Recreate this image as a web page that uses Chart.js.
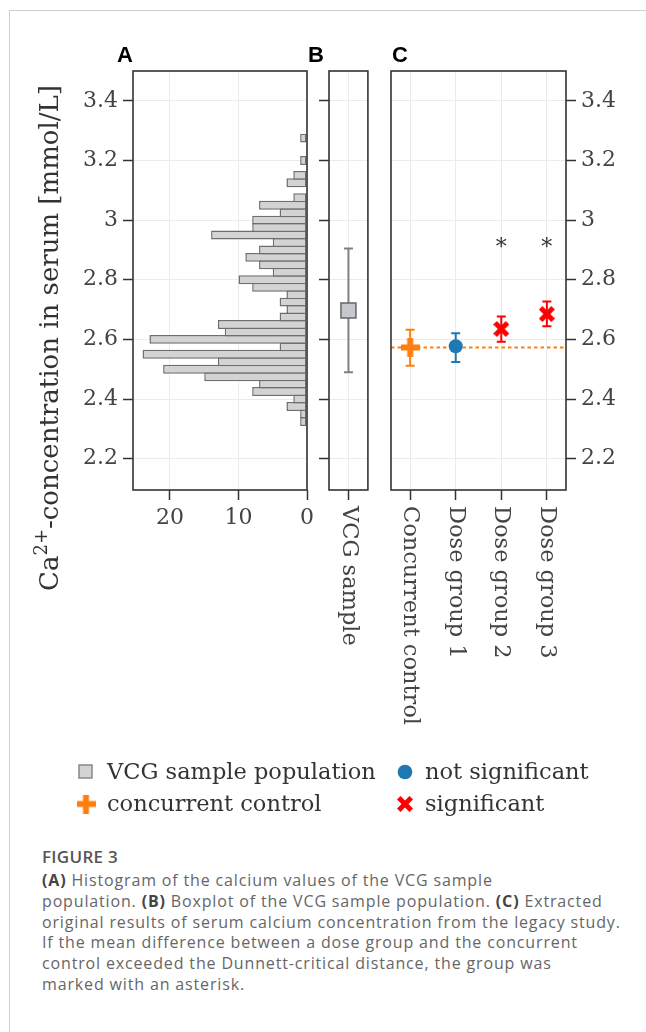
<!DOCTYPE html>
<html>
<head>
<meta charset="utf-8">
<script src="https://cdn.jsdelivr.net/npm/chart.js@4.4.1/dist/chart.umd.min.js"></script>
<style>
html, body { margin: 0; padding: 0; background: #fff; }
#page { position: relative; width: 646px; height: 1032px; overflow: hidden; background: #fff; }
#frame { position: absolute; left: 9px; top: 10px; width: 700px; height: 1100px;
         border-left: 1.5px solid #d0d0d0; border-top: 1.5px solid #d0d0d0; }
canvas { position: absolute; top: 0; }
.letter { position: absolute; top: 44px; font: bold 22px 'Liberation Sans', Arial, sans-serif;
          line-height: 22px; color: #000; }
.leg { position: absolute; font: 22.5px 'DejaVu Serif', serif; line-height: 22px; color: #333; white-space: nowrap; }
#figlabel { position: absolute; left: 42px; top: 848px; font: 600 17px 'Open Sans', sans-serif;
            line-height: 17px; color: #555; letter-spacing: 0.3px; }
#caption { position: absolute; left: 42px; top: 870px; font: 16px 'Open Sans', sans-serif;
           line-height: 20.8px; color: #666; white-space: nowrap; letter-spacing: 0.85px; }
#caption b { color: #444; }
</style>
</head>
<body>
<div id="page">
  <div id="frame"></div>
  <canvas id="histo" width="320" height="740" style="left:0"></canvas>
  <canvas id="vcg" width="80" height="740" style="left:300px"></canvas>
  <canvas id="groups" width="266" height="740" style="left:380px"></canvas>
  <canvas id="legendMarks" width="646" height="90" style="top:740px;left:0"></canvas>
  <div class="letter" style="left:117px">A</div>
  <div class="letter" style="left:308px">B</div>
  <div class="letter" style="left:392px">C</div>
  <div class="leg" style="left:107px;top:760px">VCG sample population</div>
  <div class="leg" style="left:107px;top:792px">concurrent control</div>
  <div class="leg" style="left:425px;top:760px">not significant</div>
  <div class="leg" style="left:425px;top:792px">significant</div>
  <div id="figlabel">FIGURE 3</div>
  <div id="caption"><b>(A)</b> Histogram of the calcium values of the VCG sample<br>population. <b>(B)</b> Boxplot of the VCG sample population. <b>(C)</b> Extracted<br>original results of serum calcium concentration from the legacy study.<br>If the mean difference between a dose group and the concurrent<br>control exceeded the Dunnett-critical distance, the group was<br>marked with an asterisk.</div>
</div>
<script>
// histogram of the VCG sample population (bin centres, counts)
const histBinCenters = [2.325, 2.35, 2.375, 2.4, 2.425, 2.45, 2.475, 2.5, 2.525, 2.55,
    2.575, 2.6, 2.625, 2.65, 2.675, 2.7, 2.725, 2.75, 2.775, 2.8,
    2.825, 2.85, 2.875, 2.9, 2.925, 2.95, 2.975, 3.0, 3.025, 3.05,
    3.075, 3.1, 3.125, 3.15, 3.175, 3.2, 3.225, 3.25, 3.275];
const histCounts = [1, 1, 3, 2, 8, 7, 15, 21, 13, 24,
    4, 23, 12, 13, 4, 3, 4, 3, 8, 10,
    5, 7, 9, 7, 5, 14, 8, 8, 4, 7,
    2, 0, 3, 2, 0, 1, 0, 0, 1];

// boxplot of the VCG sample
const vcgLabels = ['VCG sample'];
const vcgCenter = [2.697];
const vcgLow = [2.49];
const vcgHigh = [2.905];

// legacy study groups
const groupLabels = ['Concurrent control', 'Dose group 1', 'Dose group 2', 'Dose group 3'];
const groupMeans = [2.573, 2.577, 2.635, 2.685];
const groupLow = [2.512, 2.524, 2.592, 2.644];
const groupHigh = [2.632, 2.621, 2.677, 2.727];
const groupStatus = ['control', 'not significant', 'significant', 'significant'];
const asteriskLevel = 2.885;

const yTickValues = [2.2, 2.4, 2.6, 2.8, 3.0, 3.2, 3.4];
const countTickValues = [0, 10, 20];
const yMin = 2.095, yMax = 3.5;

const ORANGE = '#ff7f0e', BLUE = '#1f77b4', RED = '#ff0000';
const SERIF = "'DejaVu Serif', serif";
const AXIS_H = 250; // space below the plot area, labels included

Chart.defaults.font.family = SERIF;
Chart.defaults.font.size = 22;
Chart.defaults.color = '#444';

function plusMarker(size, arm, color) {
    const c = document.createElement('canvas');
    c.width = size; c.height = size;
    const g = c.getContext('2d');
    g.fillStyle = color;
    g.fillRect(0, (size - arm) / 2, size, arm);
    g.fillRect((size - arm) / 2, 0, arm, size);
    return c;
}

function crossMarker(size, arm, color) {
    const c = document.createElement('canvas');
    c.width = size; c.height = size;
    const g = c.getContext('2d');
    const len = size * Math.SQRT2 - arm;
    g.fillStyle = color;
    g.translate(size / 2, size / 2);
    g.rotate(Math.PI / 4);
    g.fillRect(-len / 2, -arm / 2, len, arm);
    g.rotate(Math.PI / 2);
    g.fillRect(-len / 2, -arm / 2, len, arm);
    return c;
}

const plusImg = plusMarker(19, 6, ORANGE);
const crossImg = crossMarker(16, 5, RED);

function gridOpts() {
    return { color: '#ebebeb', lineWidth: 1, offset: false, tickColor: '#333', tickWidth: 1.5,
             tickLength: 10, drawTicks: true };
}

function fmtTick(v) { return (Math.round(v * 10) / 10).toString(); }

function yScale(position, showLabels, width) {
    return {
        type: 'linear', position: position, min: yMin, max: yMax, offset: false,
        grid: gridOpts(), border: { display: false },
        afterBuildTicks: s => { s.ticks = yTickValues.map(v => ({ value: v })); },
        afterFit: s => { s.width = width; },
        ticks: { display: showLabels, padding: 5, callback: fmtTick }
    };
}

const boxPlugin = {
    id: 'box',
    afterDraw(chart) {
        const a = chart.chartArea, ctx = chart.ctx;
        ctx.save();
        ctx.strokeStyle = '#333';
        ctx.lineWidth = 1.6;
        ctx.strokeRect(a.left, a.top, a.right - a.left, a.bottom - a.top);
        ctx.restore();
    }
};

const errorBarPlugin = {
    id: 'errorBars',
    beforeDatasetsDraw(chart) {
        const ctx = chart.ctx, xs = chart.scales.x, ys = chart.scales.y;
        chart.data.datasets.forEach(ds => {
            if (!ds.errLow) return;
            ctx.save();
            ctx.strokeStyle = ds.errColor;
            ctx.lineWidth = 2;
            ds.data.forEach((p, i) => {
                const x = xs.getPixelForValue(p.x);
                const y1 = ys.getPixelForValue(ds.errLow[i]);
                const y2 = ys.getPixelForValue(ds.errHigh[i]);
                ctx.beginPath();
                ctx.moveTo(x, y1); ctx.lineTo(x, y2);
                ctx.moveTo(x - 4.5, y1); ctx.lineTo(x + 4.5, y1);
                ctx.moveTo(x - 4.5, y2); ctx.lineTo(x + 4.5, y2);
                ctx.stroke();
            });
            ctx.restore();
        });
    }
};

function rotatedLabels(labels) {
    return {
        id: 'rotatedLabels',
        afterDraw(chart) {
            const xs = chart.scales.x, ctx = chart.ctx;
            ctx.save();
            ctx.font = '22.5px ' + SERIF;
            ctx.fillStyle = '#444';
            ctx.textAlign = 'left';
            ctx.textBaseline = 'middle';
            labels.forEach((lab, i) => {
                ctx.save();
                ctx.translate(xs.getPixelForValue(i), chart.chartArea.bottom + 16);
                ctx.rotate(Math.PI / 2);
                ctx.fillText(lab, 0, 0);
                ctx.restore();
            });
            ctx.restore();
        }
    };
}

const yTitlePlugin = {
    id: 'yTitle',
    afterDraw(chart) {
        const ctx = chart.ctx;
        const big = '26px ' + SERIF, small = '18px ' + SERIF;
        const parts = [['Ca', big, 0], ['2+', small, -11], ['-concentration in serum [mmol/L]', big, 0]];
        ctx.save();
        let total = 0;
        parts.forEach(p => { ctx.font = p[1]; total += ctx.measureText(p[0]).width; });
        ctx.translate(58, 338);
        ctx.rotate(-Math.PI / 2);
        ctx.fillStyle = '#333';
        ctx.textBaseline = 'alphabetic';
        let x = -total / 2;
        parts.forEach(p => {
            ctx.font = p[1];
            ctx.fillText(p[0], x, p[2]);
            x += ctx.measureText(p[0]).width;
        });
        ctx.restore();
    }
};

// A: histogram
new Chart(document.getElementById('histo'), {
    type: 'bar',
    data: {
        datasets: [{
            data: histBinCenters.map((b, i) => ({ x: histCounts[i] > 0 ? histCounts[i] : null, y: b })),
            backgroundColor: '#d3d3d3',
            borderColor: '#6e6e6e',
            borderWidth: 1.5,
            borderSkipped: false,
            barPercentage: 1.2,
            categoryPercentage: 1
        }]
    },
    options: {
        indexAxis: 'y',
        responsive: false, animation: false, devicePixelRatio: 1, events: [],
        layout: { padding: { top: 71, right: 13, left: 0, bottom: 0 } },
        plugins: { legend: { display: false }, tooltip: { enabled: false } },
        scales: {
            x: {
                type: 'linear', reverse: true, min: 0, max: 25.4, offset: false,
                grid: gridOpts(), border: { display: false },
                afterBuildTicks: s => { s.ticks = countTickValues.map(v => ({ value: v })); },
                afterFit: s => { s.height = AXIS_H; },
                ticks: { padding: 5, maxRotation: 0 }
            },
            y: yScale('left', true, 133)
        }
    },
    plugins: [boxPlugin, yTitlePlugin]
});

// B: VCG sample
new Chart(document.getElementById('vcg'), {
    type: 'scatter',
    data: {
        datasets: [{
            data: vcgCenter.map((v, i) => ({ x: i, y: v })),
            errLow: vcgLow, errHigh: vcgHigh, errColor: '#808080',
            pointStyle: 'rect', pointRadius: 10.6,
            backgroundColor: '#c4c8ce', borderColor: '#666', borderWidth: 1.5
        }]
    },
    options: {
        responsive: false, animation: false, devicePixelRatio: 1, events: [],
        layout: { padding: { top: 71, right: 11, left: 0, bottom: 0 } },
        plugins: { legend: { display: false }, tooltip: { enabled: false } },
        scales: {
            x: {
                type: 'linear', min: -0.5, max: 0.5, offset: false,
                grid: gridOpts(), border: { display: false },
                afterBuildTicks: s => { s.ticks = vcgLabels.map((_, i) => ({ value: i })); },
                afterFit: s => { s.height = AXIS_H; },
                ticks: { display: false }
            },
            y: yScale('left', false, 29)
        }
    },
    plugins: [errorBarPlugin, boxPlugin, rotatedLabels(vcgLabels)]
});

// C: legacy study groups
function groupData(status) {
    const idx = groupStatus.map((s, i) => s === status ? i : -1).filter(i => i >= 0);
    return {
        data: idx.map(i => ({ x: i, y: groupMeans[i] })),
        errLow: idx.map(i => groupLow[i]),
        errHigh: idx.map(i => groupHigh[i])
    };
}

const controlMean = groupMeans[groupStatus.indexOf('control')];

const refLinePlugin = {
    id: 'refLine',
    beforeDatasetsDraw(chart) {
        const a = chart.chartArea, ctx = chart.ctx;
        const y = chart.scales.y.getPixelForValue(controlMean);
        ctx.save();
        ctx.strokeStyle = ORANGE;
        ctx.lineWidth = 2;
        ctx.setLineDash([3.5, 3]);
        ctx.beginPath();
        ctx.moveTo(a.left, y); ctx.lineTo(a.right, y);
        ctx.stroke();
        ctx.restore();
    }
};

const asteriskPlugin = {
    id: 'asterisks',
    afterDatasetsDraw(chart) {
        const ctx = chart.ctx, xs = chart.scales.x, ys = chart.scales.y;
        ctx.save();
        ctx.font = '22px ' + SERIF;
        ctx.fillStyle = '#333';
        ctx.textAlign = 'center';
        ctx.textBaseline = 'alphabetic';
        groupStatus.forEach((s, i) => {
            if (s === 'significant') ctx.fillText('*', xs.getPixelForValue(i), ys.getPixelForValue(asteriskLevel));
        });
        ctx.restore();
    }
};

const ctrl = groupData('control'), ns = groupData('not significant'), sig = groupData('significant');

new Chart(document.getElementById('groups'), {
    type: 'scatter',
    data: {
        datasets: [
            Object.assign(ctrl, { errColor: ORANGE, pointStyle: plusImg, pointRadius: 8 }),
            Object.assign(ns, { errColor: BLUE, pointStyle: 'circle', pointRadius: 7,
                backgroundColor: BLUE, borderColor: BLUE, borderWidth: 0 }),
            Object.assign(sig, { errColor: RED, pointStyle: crossImg, pointRadius: 8 })
        ]
    },
    options: {
        responsive: false, animation: false, devicePixelRatio: 1, events: [],
        layout: { padding: { top: 71, right: 0, left: 11, bottom: 0 } },
        plugins: { legend: { display: false }, tooltip: { enabled: false } },
        scales: {
            x: {
                type: 'linear', min: -0.42, max: 3.42, offset: false,
                grid: gridOpts(), border: { display: false },
                afterBuildTicks: s => { s.ticks = groupLabels.map((_, i) => ({ value: i })); },
                afterFit: s => { s.height = AXIS_H; },
                ticks: { display: false }
            },
            y: yScale('right', true, 80)
        }
    },
    plugins: [refLinePlugin, errorBarPlugin, asteriskPlugin, boxPlugin, rotatedLabels(groupLabels)]
});

// legend markers
(function () {
    const g = document.getElementById('legendMarks').getContext('2d');
    g.fillStyle = '#d3d3d3';
    g.strokeStyle = '#888';
    g.lineWidth = 1.5;
    g.fillRect(79, 25, 13, 13);
    g.strokeRect(79, 25, 13, 13);
    g.drawImage(plusImg, 86 - plusImg.width / 2, 64 - plusImg.height / 2);
    g.fillStyle = BLUE;
    g.beginPath();
    g.arc(405, 32, 7.3, 0, Math.PI * 2);
    g.fill();
    g.drawImage(crossImg, 405 - crossImg.width / 2, 64 - crossImg.height / 2);
})();
</script>
</body>
</html>
